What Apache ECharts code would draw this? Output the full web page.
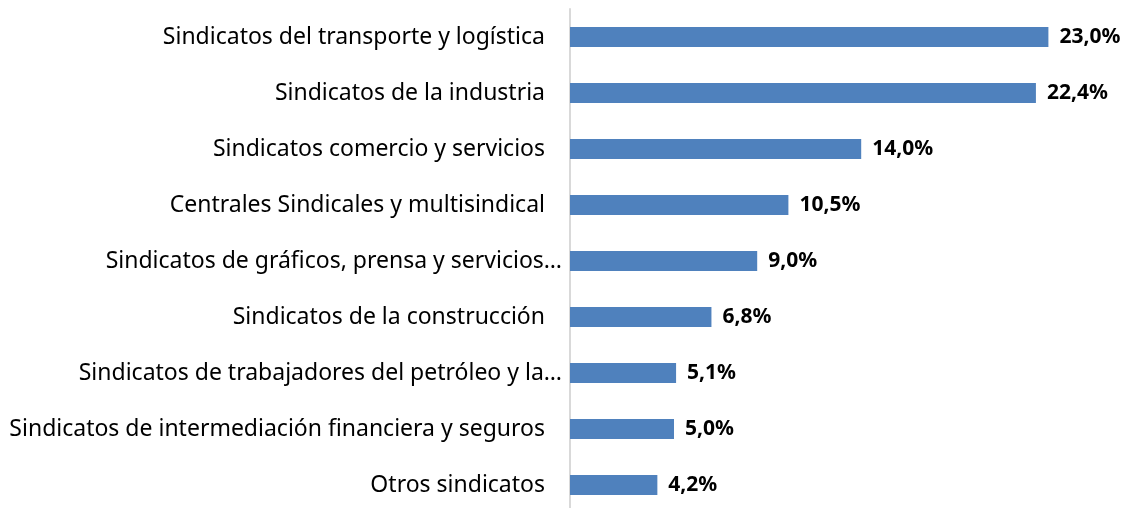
<!DOCTYPE html>
<html style="height: 100%">
<head>
<meta charset="utf-8">
<script src="https://cdn.jsdelivr.net/npm/echarts@6/dist/echarts.min.js"></script>
</head>
<body style="height: 100%; margin: 0; background: #fff">
<div id="container" style="width: 1128px; height: 508px"></div>
<script type="text/javascript">
// categorias de abajo hacia arriba
var categorias = [
    'Otros sindicatos',
    'Sindicatos de intermediación financiera y seguros',
    'Sindicatos de trabajadores del petróleo y la…',
    'Sindicatos de la construcción',
    'Sindicatos de gráficos, prensa y servicios…',
    'Centrales Sindicales y multisindical',
    'Sindicatos comercio y servicios',
    'Sindicatos de la industria',
    'Sindicatos del transporte y logística'
];
var valores = [4.2, 5.0, 5.1, 6.8, 9.0, 10.5, 14.0, 22.4, 23.0];

// las etiquetas recortadas por Excel llegan casi hasta el eje
var catData = categorias.map(function (c) {
    if (c.slice(-1) === '…') {
        return {value: c, textStyle: {padding: [0, -17, 0, 0]}};
    }
    return c;
});

var myChart = echarts.init(document.getElementById('container'));
var option = {
    animation: false,
    grid: {
        left: 570,
        right: 38,
        top: 9,
        height: 504,
        outerBoundsMode: 'none'
    },
    xAxis: {
        type: 'value',
        min: 0,
        max: 25,
        show: false
    },
    yAxis: {
        type: 'category',
        data: catData,
        axisLine: {show: true, lineStyle: {color: '#d9d9d9', width: 2}},
        axisTick: {show: false},
        axisLabel: {
            margin: 25,
            fontFamily: 'Noto Sans',
            fontSize: 23,
            color: '#000'
        },
        splitLine: {show: false}
    },
    series: [{
        type: 'bar',
        data: valores,
        barWidth: 20,
        itemStyle: {color: '#4f81bd'},
        label: {
            show: true,
            position: 'right',
            distance: 11,
            fontFamily: 'Noto Sans',
            fontWeight: 'bold',
            fontSize: 21,
            color: '#000',
            formatter: function (p) {
                return p.value.toFixed(1).replace('.', ',') + '%';
            }
        }
    }]
};
myChart.setOption(option);
</script>
</body>
</html>
